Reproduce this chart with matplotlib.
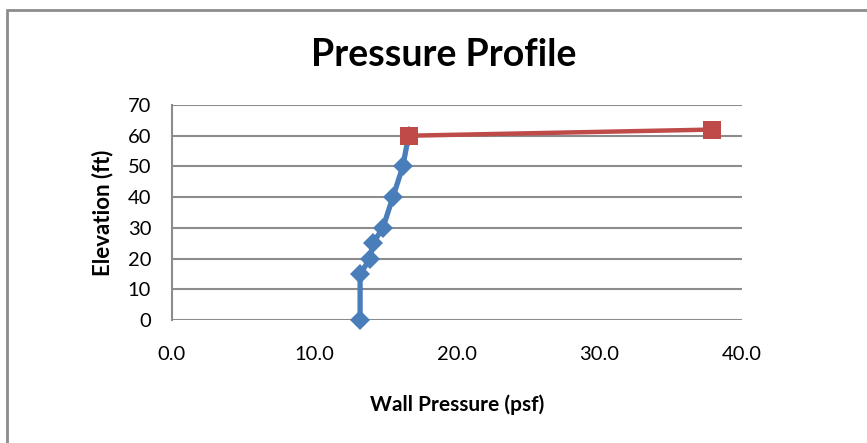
import numpy as np
import matplotlib
matplotlib.use('Agg')
import matplotlib.pyplot as plt
from matplotlib.patches import Rectangle
from matplotlib.ticker import FormatStrFormatter

# values
lower_pressure = [13.2, 13.2, 13.9, 14.1, 14.8, 15.5, 16.2, 16.6]
lower_elev = [0, 15, 20, 25, 30, 40, 50, 60]
upper_pressure = [16.6, 37.9]
upper_elev = [60, 62]

x_ticks = [0, 10, 20, 30, 40]
y_ticks = [0, 10, 20, 30, 40, 50, 60, 70]

plt.rcParams['font.family'] = ['Lato', 'DejaVu Sans']

W, H = 867, 443
fig = plt.figure(figsize=(W / 100., H / 100.), dpi=100)
ax = fig.add_axes([172. / W, 1 - 320. / H, (742. - 172.) / W, (320. - 105.) / H])

grey = '#8c8c8c'

## outer chart border (only top and left edges show in the crop)
fig.patches.append(Rectangle((6.5 / W, -0.1), 1.2, (H - 10.) / H + 0.1,
                             transform=fig.transFigure, fill=False,
                             edgecolor=grey, linewidth=2.0))

ax.plot(lower_pressure, lower_elev, color='#4a7ebb', linewidth=3.8,
        marker='D', markersize=10.5, markeredgewidth=0, clip_on=False, zorder=3)
ax.plot(upper_pressure, upper_elev, color='#be4b48', linewidth=3.2,
        marker='s', markersize=13.5, markeredgewidth=0, clip_on=False, zorder=4)

ax.set_xlim(0, 40)
ax.set_ylim(0, 70)
ax.set_xticks(x_ticks)
ax.set_yticks(y_ticks)
ax.xaxis.set_major_formatter(FormatStrFormatter('%.1f'))

ax.grid(axis='y', color=grey, linewidth=1.5)
ax.set_axisbelow(True)
for side in ['top', 'right', 'bottom']:
    ax.spines[side].set_visible(False)
ax.spines['left'].set_color(grey)
ax.spines['left'].set_linewidth(1.5)

ax.tick_params(axis='both', length=0, labelsize=14.5, colors='black')
ax.tick_params(axis='x', pad=19)
ax.tick_params(axis='y', pad=15)

ax.set_xlabel('Wall Pressure (psf)', fontsize=15, fontweight='bold', labelpad=22)
ax.set_ylabel('Elevation (ft)', fontsize=16, fontweight='bold', labelpad=10)

fig.text(444. / W, 1 - 55. / H, 'Pressure Profile', ha='center', va='center',
         fontsize=27, fontweight='bold')

fig.savefig('out.png', dpi=100)
